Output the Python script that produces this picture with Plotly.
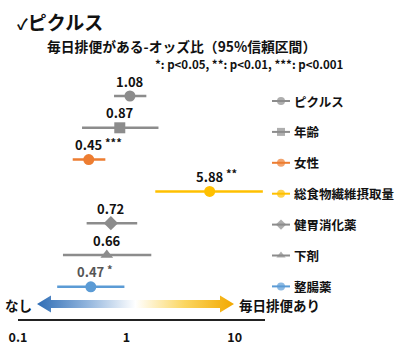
import math
import plotly.graph_objects as go

# ---------------- data ----------------
categories = ['ピクルス', '年齢', '女性', '総食物繊維摂取量', '健胃消化薬', '下剤', '整腸薬']
odds = [1.08, 0.87, 0.45, 5.88, 0.72, 0.66, 0.47]
ci_low = [0.77, 0.39, 0.32, 1.85, 0.43, 0.26, 0.23]
ci_high = [1.53, 1.98, 0.64, 18.2, 1.26, 1.70, 0.96]
stars = ['', '', '***', '**', '', '', '*']
tick_vals = [0.1, 1, 10]
tick_text = ['0.1', '1', '10']

# ---------------- styles ----------------
GRAY = '#8c8c8c'
colors = [GRAY, GRAY, '#ED7D31', '#FFC000', GRAY, GRAY, '#5B9BD5']
symbols = ['circle', 'square', 'circle', 'circle', 'diamond', 'triangle-up', 'circle']
label_colors = ['#111', '#111', '#111', '#111', '#111', '#111', '#555']
FONT = 'Noto Sans CJK JP'
W, H = 400, 351

fig = go.Figure()

rows = list(range(len(categories)))

# main forest plot
for i, cat in enumerate(categories):
    fig.add_trace(go.Scatter(
        x=[odds[i]], y=[i], mode='markers',
        marker=dict(symbol=symbols[i], size=11, color=colors[i], line=dict(width=0)),
        error_x=dict(type='data', symmetric=False,
                     array=[ci_high[i] - odds[i]], arrayminus=[odds[i] - ci_low[i]],
                     color=colors[i], thickness=2.5, width=0),
        showlegend=False, hoverinfo='skip', xaxis='x', yaxis='y'))

# value labels
for i in rows:
    fig.add_annotation(x=math.log10(odds[i]), y=i, xref='x', yref='y',
                       text=f'{odds[i]:.2f}', showarrow=False, yshift=15,
                       xanchor='center', yanchor='middle',
                       font=dict(family=FONT, size=13, weight='bold', color=label_colors[i]))
    if stars[i]:
        fig.add_annotation(x=math.log10(odds[i]), y=i, xref='x', yref='y',
                           text=stars[i], showarrow=False, yshift=18, xshift=14,
                           xanchor='left', yanchor='middle',
                           font=dict(family=FONT, size=11, weight='bold', color=label_colors[i]))

# dashed reference line at OR = 1
fig.add_shape(type='line', xref='x', yref='y domain', x0=0, x1=0, y0=0, y1=1,
              line=dict(color='#999999', width=1.3, dash='3px,2px'))

# ---------------- decoration layer (pixel coordinates) ----------------
# gradient double arrow
cy, bh, hh = 304, 4, 8.5
xl, xr, hl = 37, 234, 14
ax = [xl, xl + hl, xl + hl, xr - hl, xr - hl, xr, xr - hl, xr - hl, xl + hl, xl + hl, xl]
ay = [cy, cy - hh, cy - bh, cy - bh, cy - hh, cy, cy + hh, cy + bh, cy + bh, cy + hh, cy]
fig.add_trace(go.Scatter(
    x=ax, y=ay, mode='lines', fill='toself', line=dict(width=0),
    fillgradient=dict(type='horizontal',
                      colorscale=[[0, '#2f6db5'], [0.25, '#8fb3dc'], [0.5, '#ffffff'],
                                  [0.75, '#fbd660'], [1, '#f2a800']]),
    showlegend=False, hoverinfo='skip', xaxis='x3', yaxis='y3'))

# custom legend rows
leg_y0, leg_dy = 101, 30.9
for j, cat in enumerate(categories):
    ly = leg_y0 + leg_dy * j
    fig.add_trace(go.Scatter(
        x=[272, 281, 290], y=[ly, ly, ly], mode='lines+markers',
        line=dict(color=colors[j], width=2),
        marker=dict(symbol=symbols[j], size=[0, 8, 0], color=colors[j], line=dict(width=0)),
        showlegend=False, hoverinfo='skip', xaxis='x3', yaxis='y3'))
    fig.add_annotation(x=292, y=ly, xref='x3', yref='y3', text=cat, showarrow=False,
                       xanchor='left', yanchor='middle',
                       font=dict(family=FONT, size=12.5, weight='bold', color='#111'))

# texts
def ann(text, x, y, size, xanchor='left', color='#111'):
    fig.add_annotation(x=x, y=y, xref='x3', yref='y3', text=text, showarrow=False,
                       xanchor=xanchor, yanchor='middle',
                       font=dict(family=FONT, size=size, weight='bold', color=color))

ann("<span style='font-size:15px'>✓</span>ピクルス", 15, 21, 19)
ann('毎日排便がある-オッズ比（95%信頼区間）', 45, 46, 13.8)
ann('*: p&lt;0.05, **: p&lt;0.01, ***: p&lt;0.001', 153, 64, 11.5)
ann('なし', 18, 305, 13.5, xanchor='center')
ann('毎日排便あり', 237, 305, 13.5)

# ---------------- layout ----------------
top_px, bot_px, row0_px, row_dy = 60, 319, 96, 31.8
y_top = (top_px - row0_px) / row_dy
y_bot = (bot_px - row0_px) / row_dy

fig.update_layout(
    width=W, height=H, margin=dict(l=0, r=0, t=0, b=0, autoexpand=False),
    paper_bgcolor='white', plot_bgcolor='rgba(0,0,0,0)',
    xaxis=dict(type='log', domain=[18 / W, 265 / W], range=[-1, 1.28],
               showline=True, linecolor='#222', linewidth=1.5, showgrid=False,
               zeroline=False, ticks='', tickvals=tick_vals, ticktext=tick_text,
               ticklabelstandoff=6, automargin=False,
               tickfont=dict(family=FONT, size=12.5, weight='bold', color='#111'),
               anchor='y', fixedrange=True),
    yaxis=dict(domain=[1 - bot_px / H, 1 - top_px / H], range=[y_bot, y_top],
               visible=False, fixedrange=True, automargin=False),
    xaxis3=dict(domain=[0, 1], range=[0, W], visible=False, anchor='y3',
                fixedrange=True, automargin=False),
    yaxis3=dict(domain=[0, 1], range=[H, 0], visible=False, anchor='x3',
                fixedrange=True, automargin=False),
)

fig.write_html('out.html')
